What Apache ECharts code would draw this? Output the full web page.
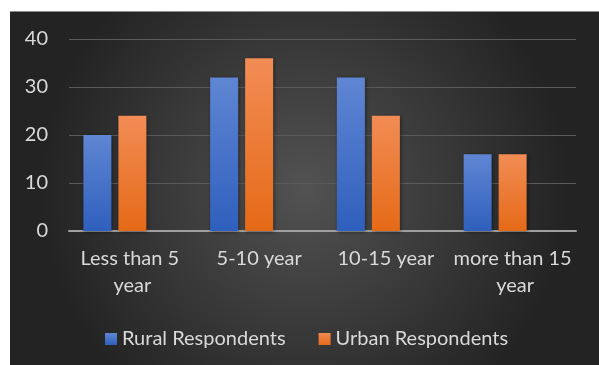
<!DOCTYPE html>
<html>
<head>
<meta charset="utf-8">
<script src="https://cdn.jsdelivr.net/npm/echarts@6/dist/echarts.min.js"></script>
<style>
  html, body { margin: 0; padding: 0; background: #fff; }
  #wrap { position: relative; width: 599px; height: 365px; overflow: hidden; }
  #chart { position: absolute; left: 10px; top: 11px; width: 589px; height: 354px; border-top: 1px solid #8c8c8c; box-sizing: border-box; }
</style>
</head>
<body>
<div id="wrap"><div id="chart"></div></div>
<script>
  // categories and values
  var categories = ['Less than 5 year', '5-10 year', '10-15 year', 'more than 15 year'];
  var rural = [20, 32, 32, 16];
  var urban = [24, 36, 24, 16];
  // the original sheet had a third (empty) series taking a bar slot
  var blank = [null, null, null, null];
  var yTicks = { min: 0, max: 40, interval: 10 };

  var chart = echarts.init(document.getElementById('chart'));
  var txt = '#d9d9d9';
  var font = 'Lato';

  chart.setOption({
    backgroundColor: {
      type: 'radial', x: 0.5, y: 0.5, r: 0.75,
      colorStops: [
        { offset: 0, color: '#525252' },
        { offset: 1, color: '#232323' }
      ]
    },
    animation: false,
    grid: { left: 59, top: 27, width: 507, height: 192, containLabel: false },
    legend: {
      data: ['Rural Respondents', 'Urban Respondents'],
      left: 95,
      top: 317,
      padding: 0,
      icon: 'rect',
      itemWidth: 12,
      itemHeight: 12,
      itemGap: 33,
      textStyle: { color: txt, fontSize: 20, fontFamily: font }
    },
    xAxis: {
      type: 'category',
      data: categories,
      axisTick: { show: false },
      axisLine: { lineStyle: { color: '#a0a0a0', width: 2 } },
      axisLabel: {
        color: txt, fontSize: 20, fontFamily: font,
        margin: 14, lineHeight: 27,
        width: 120, overflow: 'break', interval: 0
      }
    },
    yAxis: {
      type: 'value',
      min: yTicks.min, max: yTicks.max, interval: yTicks.interval,
      axisLine: { show: false },
      axisTick: { show: false },
      splitLine: { lineStyle: { color: '#5a5a5a', width: 1 } },
      axisLabel: { color: txt, fontSize: 20, fontFamily: font, margin: 21 }
    },
    series: [
      {
        name: 'Rural Respondents',
        type: 'bar',
        data: rural,
        barWidth: 28,
        barGap: '25%',
        itemStyle: {
          color: {
            type: 'linear', x: 0, y: 0, x2: 0, y2: 1,
            colorStops: [{ offset: 0, color: '#5f86d3' }, { offset: 1, color: '#2f5fbd' }]
          },
          shadowColor: 'rgba(0,0,0,0.45)', shadowBlur: 4, shadowOffsetX: 1, shadowOffsetY: 1
        }
      },
      {
        name: 'Urban Respondents',
        type: 'bar',
        data: urban,
        barWidth: 28,
        barGap: '25%',
        itemStyle: {
          color: {
            type: 'linear', x: 0, y: 0, x2: 0, y2: 1,
            colorStops: [{ offset: 0, color: '#f28c55' }, { offset: 1, color: '#e56a17' }]
          },
          shadowColor: 'rgba(0,0,0,0.45)', shadowBlur: 4, shadowOffsetX: 1, shadowOffsetY: 1
        }
      },
      {
        name: 'blank',
        type: 'bar',
        data: blank,
        barWidth: 28,
        barGap: '25%'
      }
    ]
  });
</script>
</body>
</html>
